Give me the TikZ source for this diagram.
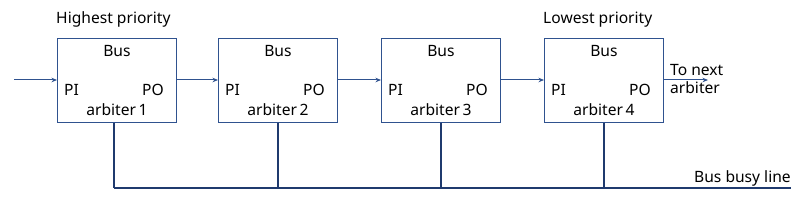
\documentclass[tikz,border=0pt]{standalone}
\usepackage{fontspec}
\setmainfont{Noto Sans}
\usetikzlibrary{arrows.meta}
\definecolor{boxc}{HTML}{2F528F}
\definecolor{busc}{HTML}{1F3A6E}
\begin{document}
\begin{tikzpicture}[x=1pt,y=-1pt,
  arb/.style={draw=boxc,line width=0.9pt,minimum width=119pt,minimum height=84pt,inner sep=0pt,anchor=north west},
  lbl/.style={font=\fontsize{15.6pt}{18pt}\selectfont,inner sep=0pt,anchor=base},
  conn/.style={draw=boxc,line width=1pt,-{Stealth[length=5.5pt,width=4.5pt]}},
  busl/.style={draw=busc,line width=1.1pt}]
\useasboundingbox (0,0) rectangle (804,200);
\foreach \i/\x/\o in {1/57/57,2/218/60,3/381/60,4/544/60}{
  \node[arb] (b\i) at (\x,38) {};
  \node[lbl] at ([yshift=-19pt]b\i.north) {Bus};
  \node[lbl,anchor=base west] at ([xshift=7pt,yshift=-58pt]b\i.north west) {PI};
  \node[lbl,anchor=base east] at ([xshift=-13pt,yshift=-58pt]b\i.north east) {PO};
  \node[lbl] at ([yshift=-78pt]b\i.north) {arbiter\,\i};
  \coordinate (t\i) at ([xshift=\o pt]b\i.south west);
}
\node[lbl,anchor=base west] (hp) at (56,24) {Highest priority};
\node[lbl,anchor=base west] (lp) at (543,24) {Lowest priority};
\coordinate (in) at (14,80);
\coordinate (out) at (708,80);
\draw[conn] (in) -- (b1.west |- in);
\draw[conn] (b1.east |- in) -- (b2.west |- in);
\draw[conn] (b2.east |- in) -- (b3.west |- in);
\draw[conn] (b3.east |- in) -- (b4.west |- in);
\draw[conn] (b4.east |- in) -- (out);
\node[lbl,anchor=base west] (tn) at (670,76) {To next};
\node[lbl,anchor=base west] (ta) at (670,94) {arbiter};
\coordinate (busend) at (791,188);
\draw[busl] (t1 |- busend) -- (busend);
\foreach \i in {1,2,3,4}{
  \draw[busl] (t\i) -- (t\i |- busend);
}
\node[lbl,anchor=base west] (bbl) at (694,183) {Bus busy line};
\end{tikzpicture}
\end{document}
